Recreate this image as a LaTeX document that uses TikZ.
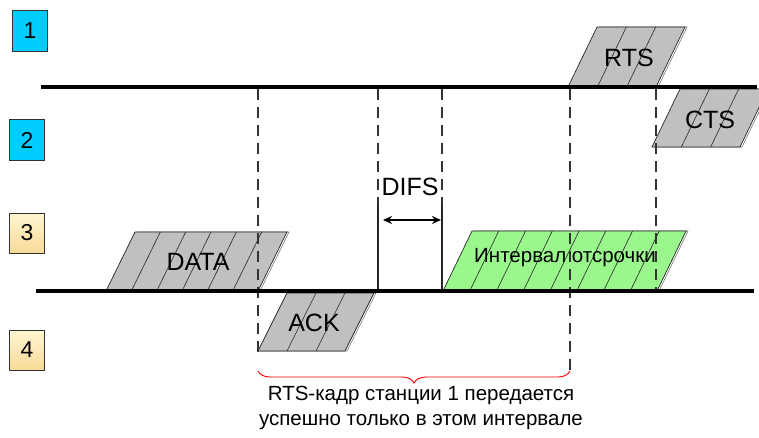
\documentclass[tikz,border=0pt]{standalone}
\usepackage{fontspec}
\setmainfont{Liberation Sans}
\usetikzlibrary{arrows.meta,decorations.pathreplacing}
\definecolor{stationblue}{HTML}{00CCFF}
\definecolor{stationyellowA}{HTML}{FFF6D2}
\definecolor{stationyellowB}{HTML}{F8DA98}
\definecolor{framegray}{HTML}{C0C0C0}
\definecolor{backoffgreen}{HTML}{99F78C}
\definecolor{shadowgray}{HTML}{7A7A7A}

% slanted frame: #1 lower-left x, #2 width, #3 lower edge y, #4 upper edge y,
% #5 slant, #6 number of stripes, #7 fill colour
\newcommand{\slantframe}[7]{%
  \draw[shadowgray, line width=0.6pt] (#1+2,#3) -- (#1+#2+2,#3) -- (#1+#2+#5+2,#4) -- (#1+#5+2,#4);
  \filldraw[fill=#7, draw=black!85, line width=0.7pt]
    (#1,#3) -- ++(#2,0) -- ++(#5,#4-#3) -- ++(-#2,0) -- cycle;
  \pgfmathtruncatemacro{\innerlast}{#6-1}%
  \foreach \k in {1,...,\innerlast}{%
    \draw[black!85, line width=0.6pt] (#1+\k*#2/#6,#3) -- ++(#5,#4-#3);
  }%
}

\tikzset{
  stationbox/.style={draw=black!80, line width=0.8pt, minimum width=35pt,
    minimum height=41pt, inner sep=0pt, font=\fontsize{23}{26}\selectfont},
  bluebox/.style={stationbox, fill=stationblue},
  yellowbox/.style={stationbox, top color=stationyellowA, bottom color=stationyellowB},
  bus/.style={line width=4pt, black},
  marker/.style={line width=1.3pt, black!80, dash pattern=on 11pt off 7pt},
  edge/.style={line width=1.1pt, black!85},
  framelabel/.style={font=\fontsize{25}{29}\selectfont, inner sep=0pt},
}

\begin{document}
\begin{tikzpicture}[x=1pt,y=-1pt]
\useasboundingbox (0,0) rectangle (759,437);

% station numbers
\node[bluebox] (s1) at (30,31) {1};
\node[bluebox] (s2) at (27,140) {2};
\node[yellowbox, minimum height=40pt] (s3) at (27,233) {3};
\node[yellowbox, minimum height=40pt] (s4) at (27,350) {4};

% frames on the upper medium
\slantframe{568}{88}{87}{27}{29}{3}{framegray}
\node[framelabel] (rts) at (629,58) {RTS};
\slantframe{652}{88}{147}{89}{28}{3}{framegray}
\node[framelabel] (cts) at (710,120) {CTS};

% frames on the lower medium
\slantframe{106}{152}{291}{232}{29}{6}{framegray}
\node[framelabel] (data) at (198,262) {DATA};
\slantframe{258}{87}{351}{293}{29}{3}{framegray}
\node[framelabel] (ack) at (314,323) {ACK};
\slantframe{443}{214}{291}{231}{29}{8}{backoffgreen}
\node[font=\fontsize{20.5}{24}\selectfont, inner sep=0pt] (backoff) at (565,258) {Интервал отсрочки};

% time markers
\coordinate (m1t) at (258,89);  \coordinate (m1b) at (258,352);
\coordinate (m2t) at (378,89);  \coordinate (m2m) at (378,205); \coordinate (m2b) at (378,291);
\coordinate (m3t) at (442,89);  \coordinate (m3m) at (442,205); \coordinate (m3b) at (442,291);
\coordinate (m4t) at (570,89);  \coordinate (m4b) at (570,372);
\coordinate (m5t) at (656,89);  \coordinate (m5b) at (656,291);
\draw[marker] (m1t) -- (m1b);
\draw[marker] (m2t) -- (m2m);
\draw[marker] (m3t) -- (m3m);
\draw[marker] (m4t) -- (m4b);
\draw[marker] (m5t) -- (m5b);
\draw[edge] (m2m) -- (m2b);
\draw[edge] (m3m) -- (m3b);

% DIFS interval
\node[framelabel] (difs) at (410,187) {DIFS};
\coordinate (difsL) at (383,220);
\coordinate (difsR) at (441,220);
\draw[line width=1.5pt, {Stealth[length=9pt,width=8pt]}-{Stealth[length=9pt,width=8pt]}] (difsL) -- (difsR);

% media
\coordinate (busAL) at (41,87);  \coordinate (busAR) at (757,87);
\coordinate (busBL) at (36,291); \coordinate (busBR) at (754,291);
\draw[bus] (busAL) -- (busAR);
\draw[bus] (busBL) -- (busBR);

% success window
\coordinate (brL) at (258,371);
\coordinate (brR) at (570,371);
\draw[red, line width=0.9pt, decorate, decoration={brace, mirror, amplitude=12pt}] (brL) -- (brR);
\node[align=center, font=\fontsize{20.5}{25}\selectfont, inner sep=0pt] (note) at (421,408)
  {RTS-кадр станции 1 передается\\успешно только в этом интервале};
\end{tikzpicture}
\end{document}
